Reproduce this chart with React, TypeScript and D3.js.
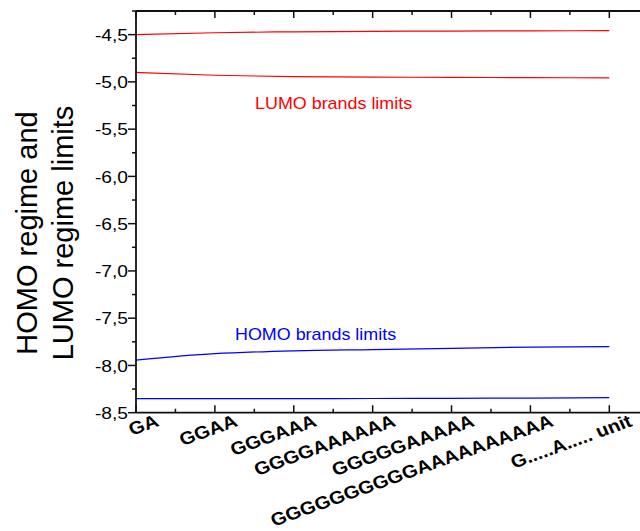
import React from "react";
import * as d3 from "d3";

const categories = ["GA", "GGAA", "GGGAAA", "GGGGAAAAAA", "GGGGGAAAAA", "GGGGGGGGGGAAAAAAAAAA", "G.....A..... unit"];
const lumoUpper = [-4.5, -4.48, -4.47, -4.465, -4.462, -4.46, -4.458];
const lumoLower = [-4.9, -4.93, -4.945, -4.95, -4.952, -4.955, -4.957];
const homoUpper = [-7.943, -7.876, -7.845, -7.832, -7.82, -7.806, -7.8];
const homoLower = [-8.352, -8.352, -8.351, -8.35, -8.348, -8.345, -8.34];
const yTicks = [-4.5, -5.0, -5.5, -6.0, -6.5, -7.0, -7.5, -8.0, -8.5];
const yMinorTicks = [-4.25, -4.75, -5.25, -5.75, -6.25, -6.75, -7.25, -7.75, -8.25];

const W = 640;
const H = 531;

export default function App() {
  const x = d3.scaleLinear().domain([0, categories.length - 1]).range([136, 609.3]);
  const y = d3.scaleLinear().domain([-8.5, -4.25]).range([412.7, 11]);
  const line = d3
    .line<number>()
    .x((_, i) => x(i))
    .y((d) => y(d))
    .curve(d3.curveMonotoneX);

  const xMajor = d3.range(0, categories.length);
  const xMinor = d3.range(0.5, categories.length + 0.5, 1);
  const fmt = (v: number) => v.toFixed(1).replace(".", ",");
  const axisColor = "#111";
  const top = y.range()[1];
  const bottom = y.range()[0];
  const left = x.range()[0];

  return (
    <svg
      width={W}
      height={H}
      style={{ position: "absolute", left: 0, top: 0, background: "#fff" }}
      fontFamily="'Liberation Sans', Arial, sans-serif"
    >
      {/* series */}
      <path d={line(lumoUpper) || ""} fill="none" stroke="#ff0000" strokeWidth={1.2} />
      <path d={line(lumoLower) || ""} fill="none" stroke="#ff0000" strokeWidth={1.2} />
      <path d={line(homoUpper) || ""} fill="none" stroke="#0000ff" strokeWidth={1.2} />
      <path d={line(homoLower) || ""} fill="none" stroke="#0000ff" strokeWidth={1.2} />

      {/* axes lines */}
      <line x1={left} x2={W} y1={top} y2={top} stroke={axisColor} strokeWidth={1.8} />
      <line x1={left} x2={W} y1={bottom} y2={bottom} stroke={axisColor} strokeWidth={1.8} />
      <line x1={left} x2={left} y1={top} y2={bottom} stroke={axisColor} strokeWidth={1.8} />

      {/* x ticks top and bottom (inward) */}
      {xMajor.map((i) => (
        <g key={"xm" + i}>
          <line x1={x(i)} x2={x(i)} y1={top} y2={top + 7} stroke={axisColor} strokeWidth={1.5} />
          <line x1={x(i)} x2={x(i)} y1={bottom} y2={bottom - 7.5} stroke={axisColor} strokeWidth={1.5} />
        </g>
      ))}
      {xMinor.map((i) => (
        <g key={"xn" + i}>
          <line x1={x(i)} x2={x(i)} y1={top} y2={top + 4} stroke={axisColor} strokeWidth={1.5} />
          <line x1={x(i)} x2={x(i)} y1={bottom} y2={bottom - 4} stroke={axisColor} strokeWidth={1.5} />
        </g>
      ))}

      {/* y ticks (outward) */}
      {yTicks.map((v) => (
        <g key={"yt" + v}>
          <line x1={left - 8} x2={left} y1={y(v)} y2={y(v)} stroke={axisColor} strokeWidth={1.5} />
          <text
            transform={`translate(128,${y(v) + 6.2}) scale(1.2,1)`}
            textAnchor="end"
            fontSize={16}
            fill="#000"
          >
            {fmt(v)}
          </text>
        </g>
      ))}
      {yMinorTicks.map((v) => (
        <line key={"yn" + v} x1={left - 4} x2={left} y1={y(v)} y2={y(v)} stroke={axisColor} strokeWidth={1.5} />
      ))}

      {/* x tick labels */}
      {categories.map((c, i) => (
        <text
          key={"xl" + i}
          transform={`translate(${x(i) + 24},${bottom + 13}) scale(1.12,1) rotate(-22)`}
          textAnchor="end"
          fontSize={18}
          fontWeight="bold"
          fill="#000"
        >
          {c}
        </text>
      ))}

      {/* annotations */}
      <text transform={`translate(255,109) scale(1.12,1)`} fontSize={16} fill="#ff0000">
        LUMO brands limits
      </text>
      <text transform={`translate(235,340) scale(1.12,1)`} fontSize={16} fill="#0000ff">
        HOMO brands limits
      </text>

      {/* y title */}
      <text transform={`translate(37,233) rotate(-90)`} textAnchor="middle" fontSize={29} fill="#000">
        HOMO regime and
      </text>
      <text transform={`translate(73,233) rotate(-90)`} textAnchor="middle" fontSize={29} fill="#000">
        LUMO regime limits
      </text>
    </svg>
  );
}
